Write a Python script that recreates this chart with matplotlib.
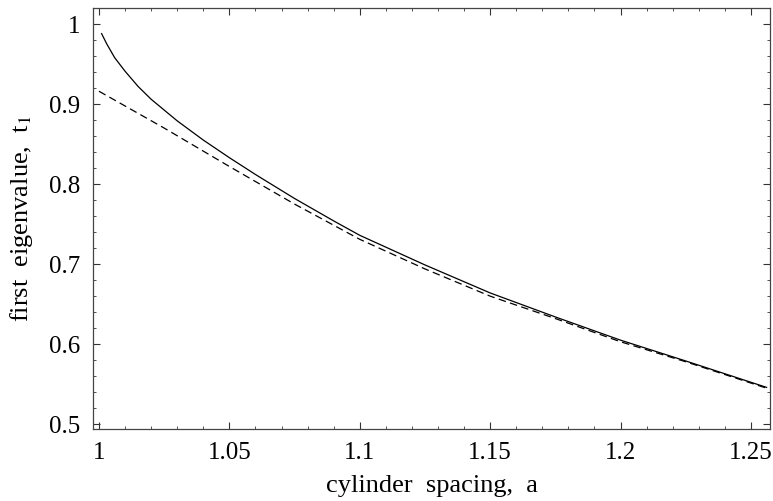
import matplotlib
matplotlib.use("Agg")
import matplotlib.pyplot as plt
from matplotlib.ticker import MultipleLocator

plt.rcParams['font.family'] = ['Liberation Serif', 'DejaVu Serif']
plt.rcParams['mathtext.fontset'] = 'stix'

# cylinder spacing a vs first eigenvalue t1
a_solid = [1.001, 1.003, 1.006, 1.01, 1.015, 1.02, 1.03, 1.04, 1.05, 1.06, 1.075, 1.09,
           1.1, 1.125, 1.15, 1.175, 1.2, 1.225, 1.256]
t_solid = [0.988, 0.975, 0.958, 0.941, 0.922, 0.906, 0.879, 0.855, 0.833, 0.812, 0.782, 0.754,
           0.736, 0.699, 0.664, 0.634, 0.605, 0.579, 0.546]

a_dash = [1.0, 1.025, 1.05, 1.075, 1.1, 1.125, 1.15, 1.175, 1.2, 1.225, 1.256]
t_dash = [0.916, 0.870, 0.822, 0.775, 0.731, 0.694, 0.660, 0.632, 0.603, 0.578, 0.545]

fig = plt.figure(figsize=(7.73, 5.01), dpi=100)
ax = fig.add_axes([0.1203, 0.1437, 0.8758, 0.8403])

ax.plot(a_solid, t_solid, color='black', lw=0.9)
ax.plot(a_dash, t_dash, color='black', lw=0.9, dashes=(6, 3.5))

ax.set_xlim(0.9977, 1.2573)
ax.set_ylim(0.494, 1.02)

ax.xaxis.set_major_locator(MultipleLocator(0.05))
ax.xaxis.set_minor_locator(MultipleLocator(0.01))
ax.yaxis.set_major_locator(MultipleLocator(0.1))
ax.yaxis.set_minor_locator(MultipleLocator(0.02))
ax.xaxis.set_major_formatter(plt.FuncFormatter(lambda v, p: f"{v:.2f}".rstrip('0').rstrip('.')))
ax.yaxis.set_major_formatter(plt.FuncFormatter(lambda v, p: f"{v:.1f}".rstrip('0').rstrip('.')))

ax.tick_params(which='both', direction='in', top=True, right=True, colors='#333333',
               labelcolor='black', labelsize=18)
ax.tick_params(which='major', length=5, width=0.8, pad=9)
ax.tick_params(which='minor', length=2.5, width=0.6)
for s in ax.spines.values():
    s.set_linewidth(0.9)
    s.set_color('#444444')

ax.set_xlabel('cylinder  spacing,  a', fontsize=19, labelpad=8)
ax.set_ylabel('first  eigenvalue,  t$_1$', fontsize=19, labelpad=10)

fig.savefig('out.png', dpi=100)
